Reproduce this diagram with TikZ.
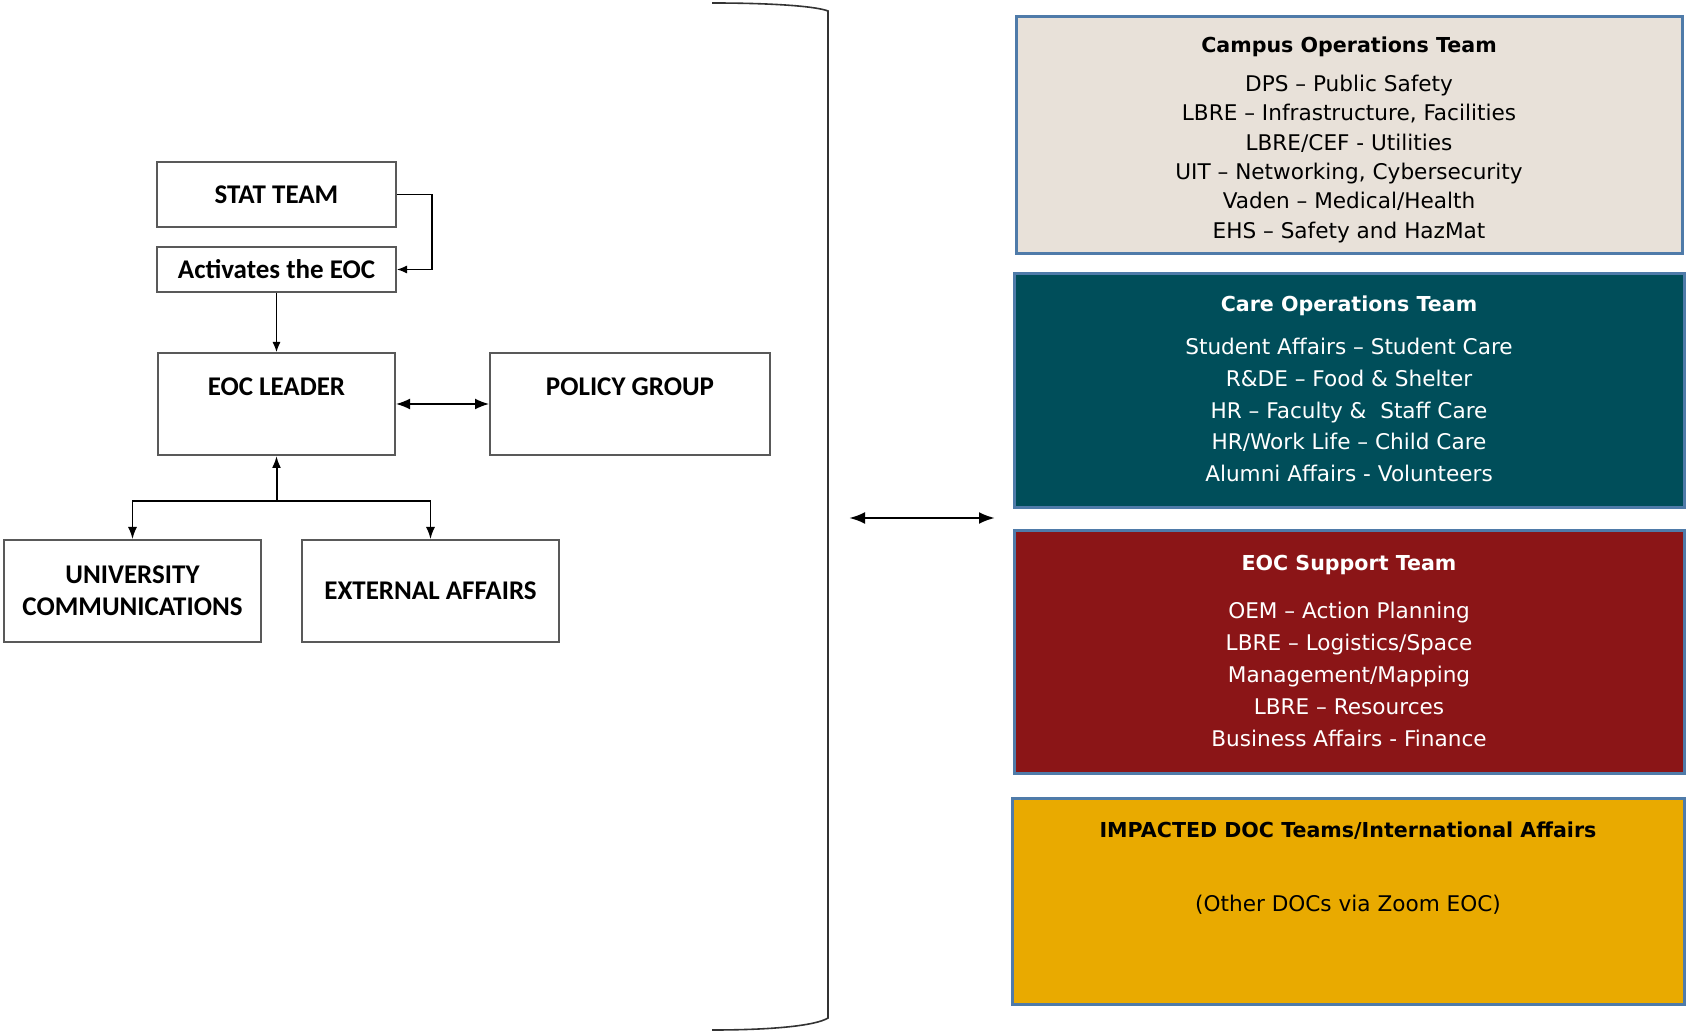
\documentclass[tikz,border=0pt]{standalone}
\usepackage{fontspec}
\setmainfont{DejaVu Sans}
\newfontfamily\calibri{Carlito}
\usetikzlibrary{positioning, arrows.meta}

\definecolor{teamline}{HTML}{4F7BA9}
\definecolor{campusfill}{HTML}{E8E1D9}
\definecolor{carefill}{HTML}{004E5A}
\definecolor{supportfill}{HTML}{8B1517}
\definecolor{impactfill}{HTML}{E9AA00}

\tikzset{
  orgbox/.style={draw=black!65, line width=1pt, inner sep=0pt, align=center,
    font=\calibri\bfseries\fontsize{13.5}{16}\selectfont},
  orgtext/.style={inner sep=0pt, font=\calibri\bfseries\fontsize{13.5}{16}\selectfont},
  teambox/.style={draw=teamline, line width=1.5pt, inner sep=0pt},
  teamtext/.style={align=center, inner sep=0pt}
}
\newcommand{\teamtitle}[1]{{\fontsize{10.3}{10}\selectfont\bfseries #1}}

\begin{document}
\begin{tikzpicture}[>={Latex[length=5pt, width=4pt]}, x=0.5pt, y=-0.5pt]
    \useasboundingbox (0,0) rectangle (1686,1031);

    % left side: the EOC chain
    \node[orgbox, minimum width=119.5pt, minimum height=32.5pt] (stat) at (276.5,194.5) {STAT TEAM};
    \node[orgbox, minimum width=119.5pt, minimum height=22.5pt] (activ) at (276.5,269.5) {Activates the EOC};
    \node[orgbox, minimum width=118.5pt, minimum height=51pt] (leader) at (276.5,404) {};
    \node[orgtext, below=12.6pt of leader.north] (leadertext) {EOC LEADER};
    \node[orgbox, minimum width=140pt, minimum height=51pt] (policy) at (630,404) {};
    \node[orgtext, below=12.6pt of policy.north] (policytext) {POLICY GROUP};
    \node[orgbox, minimum width=128.5pt, minimum height=51pt] (univ) at (132.5,591) {UNIVERSITY\\COMMUNICATIONS};
    \node[orgbox, minimum width=128.5pt, minimum height=51pt] (ext) at (430.5,591) {EXTERNAL AFFAIRS};

    \draw[->, line width=0.6pt] (stat.east) -- ++(35,0) |- (activ.east);
    \draw[->, line width=0.6pt] (activ.south) -- (leader.north);
    \draw[{Latex[length=7pt, width=5.5pt]}-{Latex[length=7pt, width=5.5pt]}, line width=0.8pt] (leader.east) -- (policy.west);
    \coordinate (split) at (276.5,501);
    \draw[-{Latex[length=6pt, width=4.5pt]}, line width=1pt] (split) -- (leader.south);
    \draw[-{Latex[length=6pt, width=4.5pt]}, line width=0.7pt] (split) -| (univ.north);
    \draw[-{Latex[length=6pt, width=4.5pt]}, line width=0.7pt] (split) -| (ext.north);

    % bracket and link to the teams
    \draw[black!80, line width=0.8pt] (712,3) .. controls (770,3) and (815,6) .. (828,11)
        -- (828,1018) .. controls (815,1026) and (770,1030) .. (712,1030);
    \coordinate (linkL) at (849,518);
    \coordinate (linkR) at (995,518);
    \draw[{Latex[length=8pt, width=6pt]}-{Latex[length=8pt, width=6pt]}, line width=1.3pt] (linkL) -- (linkR);

    % right side: the teams
    \node[teambox, fill=campusfill, minimum width=333pt, minimum height=118.5pt] (campus) at (1349,135.5) {};
    \node[teamtext, below=10.6pt of campus.north, font=\fontsize{10.8}{14.65}\selectfont] (campustext)
        {\teamtitle{Campus Operations Team}\\[4.8pt]
         DPS – Public Safety\\
         LBRE – Infrastructure, Facilities\\
         LBRE/CEF - Utilities\\
         UIT – Networking, Cybersecurity\\
         Vaden – Medical/Health\\
         EHS – Safety and HazMat};

    \node[teambox, fill=carefill, minimum width=335pt, minimum height=117pt] (care) at (1349,391) {};
    \node[teamtext, text=white, below=11.7pt of care.north, font=\fontsize{10.8}{15.8}\selectfont] (caretext)
        {\teamtitle{Care Operations Team}\\[5.7pt]
         Student Affairs – Student Care\\
         R\&DE – Food \& Shelter\\
         HR – Faculty \&\ \ Staff Care\\
         HR/Work Life – Child Care\\
         Alumni Affairs - Volunteers};

    \node[teambox, fill=supportfill, minimum width=335pt, minimum height=121pt] (support) at (1349,652) {};
    \node[teamtext, text=white, below=12.7pt of support.north, font=\fontsize{10.8}{16}\selectfont] (supporttext)
        {\teamtitle{EOC Support Team}\\[8.2pt]
         OEM – Action Planning\\
         LBRE – Logistics/Space\\
         Management/Mapping\\
         LBRE – Resources\\
         Business Affairs - Finance};

    \node[teambox, fill=impactfill, minimum width=336pt, minimum height=103pt] (impact) at (1348,901) {};
    \node[teamtext, below=12.7pt of impact.north, font=\fontsize{10.8}{14.6}\selectfont] (impacttext)
        {\teamtitle{IMPACTED DOC Teams/International Affairs}\\[22pt]
         (Other DOCs via Zoom EOC)};
\end{tikzpicture}
\end{document}
